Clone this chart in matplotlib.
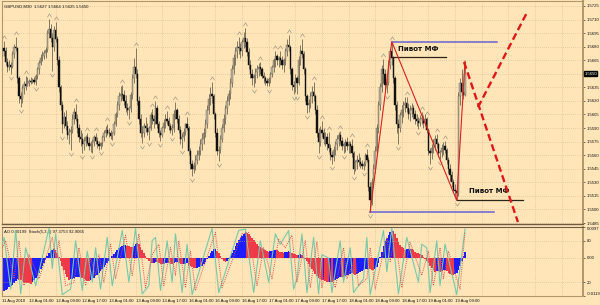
import numpy as np
import matplotlib
matplotlib.use("Agg")
import matplotlib.pyplot as plt
from matplotlib.path import Path
from matplotlib import font_manager

# ---------------- data (prices in pips above 1.5500) ----------------
BASE = 1.5500
hi = [182,186,180,168,165,163,175,183,191,180,
      148,130,138,142,148,146,144,147,145,146,
      150,158,165,172,175,176,180,198,211,205,
      195,203,207,192,170,138,120,108,110,98,
      90,92,105,112,117,106,95,88,84,80,
      82,85,80,76,78,82,85,80,76,75,
      82,88,92,95,90,88,86,98,108,120,
      130,136,138,132,126,118,114,130,150,168,
      179,155,125,105,92,96,102,96,92,108,
      111,104,120,115,98,88,92,100,105,109,
      102,96,94,110,119,112,104,92,84,90,
      96,102,92,68,55,52,60,66,70,78,
      84,90,100,115,128,135,141,128,108,90,
      70,82,95,105,115,125,132,145,160,172,
      180,186,191,184,188,196,201,190,178,165,
      155,150,156,160,162,163,158,152,148,145,
      146,152,160,168,175,172,170,175,170,168,
      178,188,193,182,158,142,150,148,170,182,
      188,175,158,128,122,130,136,141,128,115,
      90,92,98,90,86,84,86,72,65,70,
      76,82,86,87,80,75,78,80,76,76,
      78,65,55,60,62,58,55,54,62,67,
      58,30,35,50,70,95,120,140,160,166,
      155,145,165,178,185.5,170,148,120,100,108,
      115,120,124,124.4,118,115,118,116,110,106,
      102,104,108,104,106,102,90,68,72,78,
      82,83,75,66,72,75,76,68,58,50,
      42,34,28,26,130,145,155,140,164]
lo = [165,170,160,152,154,150,156,168,175,140,
      118,113,118,128,132,136,137,139,140,139,
      138,144,150,160,164,166,168,174,190,185,
      153,175,185,160,130,110,84,90,88,78,
      72,66,85,95,98,85,75,70,62,66,
      70,72,66,64,62,70,72,68,66,67,
      70,76,80,82,80,78,77,82,92,102,
      110,120,122,115,108,104,100,108,122,140,
      145,115,95,80,73,80,86,82,77,88,
      95,90,95,90,80,76,80,86,90,94,
      88,84,82,86,100,96,84,72,68,76,
      82,88,60,45,37,40,44,50,55,60,
      66,72,80,90,105,115,118,100,80,60,
      54,62,75,86,95,105,115,122,135,150,
      160,168,172,168,170,178,180,170,155,145,
      138,135,140,145,148,150,145,140,138,137,
      136,140,146,152,158,160,158,160,155,152,
      160,170,175,150,132,128,130,128,138,160,
      168,150,120,107,108,112,118,120,105,80,
      62,70,80,72,70,66,64,55,50,54,
      60,66,70,72,66,62,64,66,62,62,
      58,39,42,45,48,46,45,44,48,52,
      20,-3,5,25,40,60,85,110,130,140,
      132,129,138,155,160,140,110,85,72,86,
      96,102,108,108,100,98,102,100,95,92,
      89,92,94,90,92,85,60,50,56,62,
      66,68,58,56,58,60,62,50,40,32,
      25,18,14,10,15,115,125,122,125]
cl = [178,175,163,158,160,158,172,180,178,145,
      125,122,134,139,136,140,142,141,143,141,
      148,155,162,168,170,173,176,195,200,190,
      180,198,188,165,135,115,95,102,92,82,
      86,88,100,108,100,90,80,78,72,76,
      80,74,70,72,75,80,76,72,70,73,
      80,85,88,85,84,81,84,95,105,115,
      125,128,126,120,112,110,112,126,145,158,
      150,120,100,85,84,92,90,86,90,104,
      100,98,112,95,84,82,90,96,100,98,
      92,88,90,106,110,100,88,78,80,86,
      94,90,65,50,45,48,55,60,65,72,
      78,85,95,110,122,128,125,105,85,65,
      66,78,90,100,112,120,128,140,155,168,
      175,180,178,175,185,190,185,174,160,150,
      145,148,152,155,158,155,148,145,142,140,
      144,150,158,165,170,165,168,165,160,165,
      175,182,180,155,138,135,145,140,165,175,
      172,155,125,115,118,125,130,125,110,85,
      75,88,85,78,80,72,68,60,58,66,
      72,78,82,76,70,72,75,70,72,70,
      62,45,52,55,52,50,48,50,60,55,
      25,10,30,45,65,90,115,135,155,150,
      138,140,160,175,168,145,115,95,90,104,
      110,115,118,112,105,110,112,106,100,98,
      96,100,100,96,100,88,65,62,68,74,
      78,72,62,64,68,70,66,55,45,38,
      30,22,20,18,125,140,130,127,150]
first_open = 170

up_fractals = [1,8,14,28,32,44,51,56,63,72,80,90,92,99,104,111,126,142,146,155,
               164,167,172,180,187,192,196,203,210,219,229,234,243,252,255,261,266]
down_fractals = [5,11,20,30,36,41,48,54,59,66,76,84,88,95,102,108,114,130,151,160,
                 175,177,183,190,198,205,211,217,221,231,238,250,257,263,273]

# Awesome oscillator (units of 0.001)
ao = [-10.6,-10.3,-10.0,-9.6,-9.2,-8.8,-8.3,-7.8,-7.2,-6.6,
      -6.8,-7.0,-7.3,-7.5,-7.7,-7.8,-7.9,-8.0,-7.6,-7.0,
      -6.3,-5.5,-4.6,-3.6,-2.6,-1.5,-0.5,0.6,1.5,2.2,
      2.6,2.8,2.5,1.6,0.4,-1.0,-2.5,-3.8,-5.0,-6.0,
      -6.8,-6.7,-6.5,-6.2,-6.0,-5.9,-5.8,-6.0,-6.3,-6.6,
      -6.9,-7.1,-7.3,-7.0,-6.6,-6.2,-5.7,-5.2,-4.7,-4.1,
      -3.5,-2.9,-2.2,-1.5,-0.8,-0.1,0.6,1.3,2.0,2.6,
      3.1,3.5,3.8,4.0,4.1,3.9,3.7,3.5,3.4,3.9,
      4.4,4.7,4.3,3.5,2.6,1.6,0.7,-0.2,-0.9,-1.4,
      -1.6,-1.5,-1.3,-1.4,-1.7,-1.9,-2.0,-1.8,-1.6,-1.5,
      -1.6,-1.8,-1.9,-1.7,-1.4,-1.3,-1.5,-1.8,-2.0,-1.9,
      -1.8,-1.7,-2.1,-2.5,-2.8,-3.0,-3.1,-3.0,-2.9,-3.0,
      -2.4,-1.8,-1.1,-0.3,0.6,1.5,2.2,2.7,2.8,2.3,
      1.5,0.6,-0.3,-1.0,-1.4,-1.0,-0.2,0.7,1.6,2.6,
      3.6,4.6,5.5,6.3,7.0,7.6,8.1,7.9,7.4,6.8,
      6.2,5.6,5.0,4.4,3.9,3.4,3.1,2.8,2.5,2.2,
      2.0,2.1,2.3,2.5,2.6,2.4,2.2,2.0,1.8,1.7,
      1.8,2.0,2.1,1.9,1.6,1.3,1.1,0.9,1.0,1.1,
      0.8,0.4,-0.2,-0.9,-1.8,-2.7,-3.5,-4.2,-4.9,-5.6,
      -6.2,-6.7,-7.0,-6.8,-7.2,-7.5,-7.6,-7.4,-7.5,-7.3,
      -7.0,-6.6,-6.2,-5.8,-5.9,-6.0,-5.7,-5.4,-5.2,-5.0,
      -4.8,-5.1,-5.2,-4.9,-4.6,-4.3,-4.1,-3.9,-3.6,-3.3,
      -3.4,-3.5,-3.8,-3.9,-3.6,-2.8,-1.5,0.2,2.0,3.8,
      5.2,6.3,7.2,8.0,8.6,8.3,7.5,6.3,5.0,4.0,
      3.3,3.0,2.6,2.7,2.8,2.9,2.8,2.4,2.0,1.7,
      1.5,1.2,0.8,0.3,-0.2,-0.8,-1.6,-2.5,-3.2,-3.8,
      -4.3,-4.2,-4.1,-4.3,-4.1,-3.9,-3.8,-4.1,-4.6,-5.0,
      -5.3,-5.4,-5.0,-4.8,-3.9,-2.6,-1.0,0.5,1.99]

# Stochastic (5,3,3) main and signal, read at turning points
k_bars = [0,1,5,8,11,14,20,28,30,32,36,41,44,48,51,54,56,59,63,66,72,76,80,84,88,90,92,95,99,
          102,104,108,111,114,126,130,142,146,151,155,160,164,167,172,175,177,180,183,187,190,
          192,196,198,203,205,209,211,217,219,221,229,231,234,238,243,250,252,255,257,261,263,
          266,273,278]
k_vals = [75,85,10,95,3,70,15,98,40,90,2,10,80,8,65,20,70,10,85,15,95,20,98,3,15,80,85,8,80,
          20,90,5,75,2,98,5,95,97,5,80,20,90,75,95,10,25,90,5,85,3,
          60,55,5,80,20,70,5,25,85,2,95,35,98,3,85,20,75,70,5,80,15,
          75,2,97]
d_bars = [0,2,7,10,13,16,22,30,32,34,38,43,46,50,53,56,58,61,65,68,74,78,82,86,90,94,97,101,
          104,106,110,113,116,128,132,144,148,153,157,162,166,170,174,177,182,185,189,192,195,
          200,205,207,212,214,219,221,224,231,233,236,240,245,252,256,259,263,265,268,275,278]
d_vals = [70,80,25,80,15,60,25,85,55,80,15,20,70,15,55,30,60,20,75,25,88,30,90,12,60,75,15,70,
          30,80,12,65,8,92,12,90,92,15,70,25,82,70,88,20,80,12,78,12,50,
          12,70,25,55,15,25,70,10,85,50,90,12,78,30,65,15,70,25,65,10,93]

# annotations (bar index, pips)
zz_bars = [221, 234, 273, 278]
zz_vals = [-3, 185.5, 10, 164]
proj1_bars = [277.4, 309.8]
proj1_vals = [163, -14]
proj2_bars = [285.8, 315.3]
proj2_vals = [113, 218]
blue_levels = [(185.5, 234, 297.2), (-3, 221, 295.4)]
black_levels = [(168.6, 234, 266.6), (10, 273, 312.9)]
pivot_labels = [(237.7, 177.4), (280.4, 20.4)]

date_labels = ["11 Aug 2010", "12 Aug 01:00", "12 Aug 09:00", "12 Aug 17:00", "13 Aug 01:00",
               "13 Aug 09:00", "13 Aug 17:00", "16 Aug 01:00", "16 Aug 09:00", "16 Aug 17:00",
               "17 Aug 01:00", "17 Aug 09:00", "17 Aug 17:00", "18 Aug 01:00", "18 Aug 09:00",
               "18 Aug 17:00", "19 Aug 01:00", "19 Aug 09:00"]
price_ticks = [-15, 0, 15, 30, 45, 60, 75, 90, 105, 120, 135, 150, 165, 180, 195, 210, 225]
current_price = 150
ind_labels = ['0.0097', '0.00', '-0.0119']

assert len(hi) == len(lo) == len(cl) == len(ao), (len(hi), len(lo), len(cl), len(ao))

# ---------------- drawing ----------------
BG = '#ffe5b8'
GRID = '#cdb48c'
SP = '#b0966a'
plt.rcParams['font.family'] = ['DejaVu Sans']
installed = {f.name for f in font_manager.fontManager.ttflist}
if 'Liberation Sans Narrow' in installed:
    SMALL = dict(family=['Liberation Sans Narrow', 'DejaVu Sans'], size=3.7)
elif 'Liberation Sans' in installed:
    SMALL = dict(family=['Liberation Sans', 'DejaVu Sans'], size=3.1)
else:
    SMALL = dict(family=['DejaVu Sans'], size=2.8)

n = len(cl)
bars = np.arange(n)
H = np.array(hi, float); L = np.array(lo, float); C = np.array(cl, float)
O = np.concatenate([[first_open], C[:-1]])
H = np.maximum(H, np.maximum(O, C)); L = np.minimum(L, np.minimum(O, C))
def P(v):
    return BASE + np.asarray(v, float) / 10000.0

W, Hf = 600, 305
fig = plt.figure(figsize=(6, 3.05), dpi=100, facecolor=BG)
ax = fig.add_axes([2 / W, 1 - 224 / Hf, 581 / W, 223 / Hf], facecolor=BG)
ax2 = fig.add_axes([2 / W, 1 - 296 / Hf, 581 / W, 69 / Hf], facecolor=BG)

xmin, xmax = -0.24, 348.9
ymin, ymax = -16.1, 230.5
ax.set_xlim(xmin, xmax)
ax.set_ylim(P(ymin), P(ymax))

# grid
grid_bars = np.arange(0, 345, 16)
for g in grid_bars:
    ax.axvline(g, color=GRID, lw=0.5, ls=(0, (1, 2)), zorder=0)
    ax2.axvline(g, color=GRID, lw=0.5, ls=(0, (1, 2)), zorder=0)
for t in price_ticks:
    ax.axhline(P(t), color=GRID, lw=0.5, ls=(0, (1, 2)), zorder=0)

# candles
up = C >= O
ax.vlines(bars, P(L), P(H), color='#6f6754', lw=0.6, zorder=2)
bot = np.minimum(O, C); top = np.maximum(O, C)
ht = np.maximum(top - bot, 0.6)
ax.bar(bars[up], ht[up] / 10000.0, bottom=P(bot[up]), width=0.8, color='#b9b09a',
       edgecolor='#6f6754', linewidth=0.3, zorder=3)
ax.bar(bars[~up], ht[~up] / 10000.0, bottom=P(bot[~up]), width=0.8, color='#111111',
       edgecolor='#111111', linewidth=0.3, zorder=3)

# fractals
upm = Path([(-1, -0.8), (0, 0.8), (1, -0.8)], [Path.MOVETO, Path.LINETO, Path.LINETO])
dnm = Path([(-1, 0.8), (0, -0.8), (1, 0.8)], [Path.MOVETO, Path.LINETO, Path.LINETO])
uf = np.array(up_fractals); df = np.array(down_fractals)
ax.plot(uf, P(H[uf] + 4.5), ls='', marker=upm, ms=3.0, mew=0.45, color='#9d937f',
        fillstyle='none', zorder=4)
ax.plot(df, P(L[df] - 4.5), ls='', marker=dnm, ms=3.0, mew=0.45, color='#9d937f',
        fillstyle='none', zorder=4)

# levels
for v, b0, b1 in blue_levels:
    ax.plot([b0, b1], [P(v), P(v)], color='#6a62d0', lw=1.1, zorder=5)
for v, b0, b1 in black_levels:
    ax.plot([b0, b1], [P(v), P(v)], color='#2c2418', lw=0.9, zorder=5)
for bx, by in pivot_labels:
    ax.text(bx, P(by), 'Пивот МФ', fontsize=5.0, fontweight='bold', color='#111111',
            va='center', ha='left', zorder=6)
ax.plot(zz_bars, P(zz_vals), color='#dd2020', lw=0.8, zorder=6)
ax.plot(proj1_bars, P(proj1_vals), color='#e01818', lw=1.7, ls=(0, (3, 1.6)), zorder=6)
ax.plot(proj2_bars, P(proj2_vals), color='#e01818', lw=1.7, ls=(0, (3, 1.6)), zorder=6)

ax.text(0.004, 0.985, 'GBPUSD,M30  1.5627 1.5664 1.5625 1.5650', transform=ax.transAxes,
        va='top', ha='left', color='#111111', **SMALL)

# price axis
ax.yaxis.tick_right()
ax.set_yticks(P(price_ticks))
ax.set_yticklabels(['' if t == current_price else f'{BASE + t / 10000:.4f}' for t in price_ticks])
for lab in ax.get_yticklabels():
    lab.set_fontfamily(SMALL['family']); lab.set_fontsize(SMALL['size'])
ax.tick_params(axis='y', length=1.5, width=0.4, pad=1, colors='#111111')
ax.set_xticks([])
ax.text(1.002, (current_price - ymin) / (ymax - ymin), '1.5650',
        transform=ax.transAxes, color='white', va='center', ha='left',
        bbox=dict(boxstyle='square,pad=0.15', fc='black', ec='black'), clip_on=False, **SMALL)

for a in (ax, ax2):
    for s in a.spines.values():
        s.set_color(SP)
        s.set_linewidth(0.8)
    a.spines['right'].set_linewidth(1.4)
ax.spines['bottom'].set_color('#6e5a3c')
ax.spines['bottom'].set_linewidth(1.0)
ax2.spines['top'].set_color('#6e5a3c')

# ---------------- indicator panel ----------------
ao_arr = np.array(ao)
col = ['#1d1dff'] + ['#1d1dff' if ao_arr[i] > ao_arr[i - 1] else '#f03848' for i in range(1, n)]
ax2.set_xlim(xmin, xmax)
ax2.set_ylim(-11.9, 9.7)
ax2.bar(bars, ao_arr, width=1.0, color=col, linewidth=0, zorder=2)
ax2.axhline(0, color=GRID, lw=0.5, ls=(0, (1, 2)), zorder=0)

ax3 = ax2.twinx()
ax3.set_ylim(0, 100)
ax3.set_xlim(xmin, xmax)
for lvl in (20, 80):
    ax3.axhline(lvl, color=GRID, lw=0.5, ls=(0, (1, 2)), zorder=0)
ax3.plot(k_bars, k_vals, color='#78c8a8', lw=0.8, zorder=3)
ax3.plot(d_bars, d_vals, color='#e05050', lw=0.7, ls=(0, (1, 1.2)), zorder=3)
ax3.set_yticks([20, 80])
ax3.set_yticklabels(['20', '80'])
for lab in ax3.get_yticklabels():
    lab.set_fontfamily(SMALL['family']); lab.set_fontsize(SMALL['size'])
ax3.tick_params(axis='y', length=1.5, width=0.4, pad=1, colors='#111111')
for s in ax3.spines.values():
    s.set_visible(False)

ax2.yaxis.tick_right()
ax2.set_yticks([9.7, 0, -11.9])
ax2.set_yticklabels(ind_labels)
for lab, va in zip(ax2.get_yticklabels(), ['top', 'center', 'bottom']):
    lab.set_va(va)
    lab.set_fontfamily(SMALL['family']); lab.set_fontsize(SMALL['size'])
ax2.tick_params(axis='y', length=1.5, width=0.4, pad=1, colors='#111111')

ax2.set_xticks(np.arange(0, 16 * len(date_labels), 16))
ax2.set_xticklabels(date_labels)
for lab in ax2.get_xticklabels():
    lab.set_ha('left')
    lab.set_fontfamily(SMALL['family']); lab.set_fontsize(SMALL['size'])
ax2.tick_params(axis='x', length=0, pad=2, colors='#111111')
ax2.text(0.004, 0.96, 'AO 0.00199  Stoch(5,3,3) 97.3753 92.9065', transform=ax2.transAxes,
         va='top', ha='left', color='#111111', zorder=5, **SMALL)

fig.savefig('out.png', dpi=100, facecolor=BG)
